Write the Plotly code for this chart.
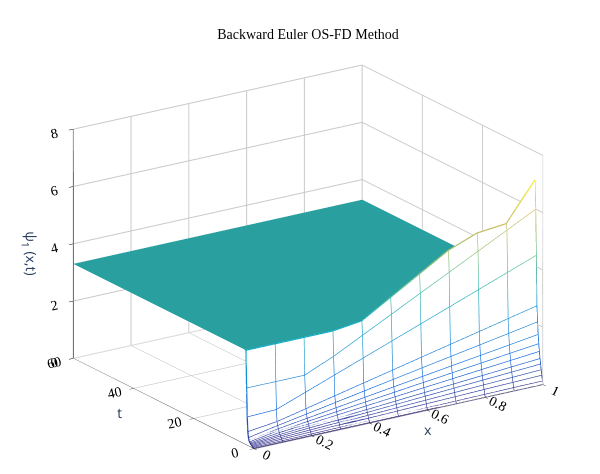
import plotly.graph_objects as go
import numpy as np

x_vals = [0.0, 0.1, 0.2, 0.3, 0.4, 0.5, 0.6, 0.7, 0.8, 0.9, 1.0]
t_small = [0.0, 0.2, 0.4, 0.6, 0.8, 1.0, 1.2, 1.4, 1.6, 1.8, 2.0, 2.2, 2.4, 2.6]
# psi at x=1 for each early time row
amp_x1 = [0.0, 0.12, 0.31, 0.49, 0.68, 0.86, 1.1, 1.36, 1.67, 2.1, 2.65, 4.4, 6.0, 7.0]
# psi at x=0 for each early time row
val_x0 = [0.0, 0.02, 0.04, 0.06, 0.08, 0.1, 0.12, 0.15, 0.2, 0.3, 0.5, 1.0, 2.0, 3.3]
t_plateau = [3, 5, 10, 20, 30, 40, 50, 60]
plateau_value = 3.3

rows = []
for a, c in zip(amp_x1, val_x0):
    row = [c] + [max(c, a * (0.15 + 0.85 * xv)) for xv in x_vals[1:]]
    rows.append(row)
rows[-1][8] = 5.6; rows[-1][9] = 5.7
t_all = t_small + t_plateau
Z = np.array(rows + [[plateau_value] * len(x_vals) for _ in t_plateau])

parula = [[0, '#352a87'], [0.15, '#0363e1'], [0.3, '#1485d4'], [0.45, '#06a7c6'],
          [0.55, '#38b99e'], [0.7, '#92bf73'], [0.82, '#d9ba56'], [0.92, '#fcce2e'], [1, '#f9fb0e']]
cmax = 7.2

surfcol = np.array([[0.0] * len(x_vals)] * len(t_small) + [[1.0] * len(x_vals)] * len(t_plateau))
surfcol[len(t_small) - 1, :] = 0.0

fig = go.Figure()
fig.add_trace(go.Surface(x=x_vals, y=t_all, z=Z, surfacecolor=surfcol,
                         colorscale=[[0, 'white'], [1, '#2a9fa0']], cmin=0, cmax=1,
                         showscale=False, lighting=dict(ambient=1, diffuse=0, specular=0, fresnel=0)))
for k, tk in enumerate(t_small):
    fig.add_trace(go.Scatter3d(x=x_vals, y=[tk] * len(x_vals), z=Z[k], mode='lines',
                               line=dict(width=2.5, color=Z[k], colorscale=parula, cmin=0, cmax=cmax),
                               showlegend=False, hoverinfo='skip'))
for j, xv in enumerate(x_vals):
    zc = Z[:len(t_small) + 1, j]
    fig.add_trace(go.Scatter3d(x=[xv] * len(zc), y=t_all[:len(t_small) + 1], z=zc, mode='lines',
                               line=dict(width=2.5, color=zc, colorscale=parula, cmin=0, cmax=cmax),
                               showlegend=False, hoverinfo='skip'))

ax = dict(showbackground=False, gridcolor='#c8c8c8', showline=True, linecolor='black',
          ticks='outside', tickcolor='black', tickfont=dict(family='Liberation Serif', size=13, color='black'),
          title_font=dict(family='Liberation Serif', size=15, color='black'), showspikes=False)
fig.update_layout(
    width=600, height=474, paper_bgcolor='white',
    title=dict(text='Backward Euler OS-FD Method', x=0.5, y=0.955,
               font=dict(family='Liberation Serif', size=14, color='black')),
    margin=dict(l=0, r=0, t=40, b=0),
    scene=dict(
        xaxis=dict(ax, title='x', range=[0, 1], tickvals=[0, 0.2, 0.4, 0.6, 0.8, 1]),
        yaxis=dict(ax, title='t', range=[0, 60], tickvals=[0, 20, 40, 60]),
        zaxis=dict(ax, title='ψ<sub>1</sub> (x,t)', range=[0, 8], tickvals=[0, 2, 4, 6, 8]),
        aspectmode='manual', aspectratio=dict(x=1.6, y=1.5, z=1.12),
        camera=dict(eye=dict(x=-0.8, y=-1.2, z=0.47), center=dict(x=0, y=0, z=-0.04),
                    projection=dict(type='orthographic')),
    ),
)
fig.write_html('out.html')
